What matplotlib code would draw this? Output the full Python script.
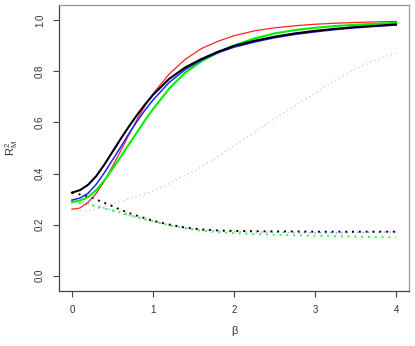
import matplotlib
matplotlib.use("Agg")
import matplotlib.pyplot as plt

beta = [0, 0.1, 0.2, 0.3, 0.4, 0.5, 0.6, 0.7, 0.8, 0.9, 1.0, 1.2, 1.4, 1.6, 1.8, 2.0,
        2.25, 2.5, 2.75, 3.0, 3.25, 3.5, 3.75, 4.0]

red_solid = [0.26, 0.265, 0.288, 0.322, 0.37, 0.428, 0.488, 0.55, 0.61, 0.665, 0.712, 0.79, 0.848,
             0.89, 0.918, 0.94, 0.959, 0.971, 0.979, 0.985, 0.989, 0.992, 0.994, 0.996]
green_solid = [0.288, 0.294, 0.308, 0.335, 0.373, 0.418, 0.465, 0.513, 0.56, 0.608, 0.652, 0.733, 0.796,
               0.84, 0.874, 0.902, 0.929, 0.949, 0.962, 0.971, 0.978, 0.983, 0.987, 0.99]
blue_solid = [0.296, 0.304, 0.323, 0.358, 0.403, 0.453, 0.503, 0.555, 0.603, 0.648, 0.688, 0.757, 0.808,
              0.845, 0.873, 0.895, 0.915, 0.932, 0.945, 0.955, 0.964, 0.971, 0.977, 0.982]
black_solid = [0.325, 0.335, 0.356, 0.39, 0.435, 0.485, 0.535, 0.583, 0.628, 0.67, 0.708, 0.771, 0.816,
               0.849, 0.877, 0.9, 0.92, 0.936, 0.949, 0.959, 0.967, 0.974, 0.979, 0.984]

red_dot = [0.26, 0.255, 0.253, 0.26, 0.27, 0.28, 0.29, 0.3, 0.31, 0.321, 0.332, 0.36, 0.393,
           0.426, 0.465, 0.51, 0.56, 0.615, 0.665, 0.715, 0.765, 0.81, 0.845, 0.873]
green_dot = [0.288, 0.284, 0.278, 0.271, 0.263, 0.255, 0.247, 0.238, 0.23, 0.221, 0.213, 0.197, 0.185,
             0.176, 0.17, 0.166, 0.163, 0.16, 0.158, 0.156, 0.154, 0.153, 0.151, 0.149]
blue_dot = [0.296, 0.29, 0.282, 0.273, 0.264, 0.255, 0.246, 0.237, 0.228, 0.22, 0.212, 0.198, 0.187,
            0.179, 0.174, 0.172, 0.171, 0.17, 0.169, 0.168, 0.168, 0.169, 0.17, 0.171]
black_dot = [0.325, 0.318, 0.31, 0.298, 0.285, 0.272, 0.258, 0.246, 0.235, 0.225, 0.215, 0.2, 0.188,
             0.181, 0.177, 0.175, 0.174, 0.173, 0.173, 0.172, 0.172, 0.172, 0.172, 0.172]

xticks = [0, 1, 2, 3, 4]
yticks = [0.0, 0.2, 0.4, 0.6, 0.8, 1.0]
ytick_labels = ["0.0", "0.2", "0.4", "0.6", "0.8", "1.0"]

plt.rcParams['font.family'] = ['Liberation Sans', 'DejaVu Sans']

fig = plt.figure(figsize=(4.15, 3.46), dpi=100)
ax = fig.add_axes([59/415, (346-291.3)/346, (409-59)/415, (291.3-4.7)/346])

dot = (0, (1, 2.5))
ax.plot(beta, red_dot, color='#ffb3b3', lw=0.9, linestyle=dot)
ax.plot(beta, blue_dot, color='#9999ff', lw=1.1, linestyle=dot)
ax.plot(beta, green_dot, color='#33ff33', lw=1.4, linestyle=dot)
ax.plot(beta, black_dot, color='black', lw=1.4, linestyle=dot)

ax.plot(beta, red_solid, color='#ff2222', lw=0.9)
ax.plot(beta, green_solid, color='#00ee00', lw=1.5)
ax.plot(beta, blue_solid, color='#2222ff', lw=1.1)
ax.plot(beta, black_solid, color='black', lw=1.5)

ax.set_xlim(-0.16, 4.16)
ax.set_ylim(-0.0616, 1.0616)
ax.set_xticks(xticks)
ax.set_xticklabels([str(t) for t in xticks])
ax.set_yticks(yticks)
ax.set_yticklabels(ytick_labels, rotation=90, va='center')

ax.tick_params(axis='both', direction='out', length=4, width=0.8, colors='#444444',
               labelsize=7, labelcolor='#333333', pad=6)
for side in ['left', 'bottom']:
    ax.spines[side].set_color('#444444')
    ax.spines[side].set_linewidth(0.9)
for side in ['top', 'right']:
    ax.spines[side].set_color('#999999')
    ax.spines[side].set_linewidth(0.9)

ax.set_xlabel('β', fontsize=8, color='#333333', labelpad=8)
ax.set_ylabel(r'$\mathregular{R^2_M}$', fontsize=8, color='#333333', labelpad=11)

fig.savefig('out.png', dpi=100)
